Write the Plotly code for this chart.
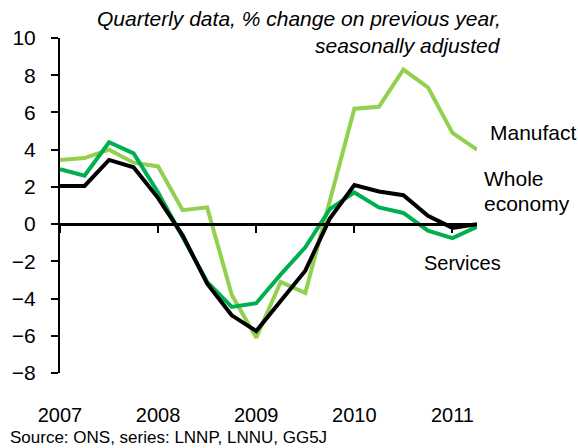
import plotly.graph_objects as go

quarters = list(range(18))  # 2007 Q1 .. 2011 Q2
year_ticks = [0, 4, 8, 12, 16]
year_labels = ["2007", "2008", "2009", "2010", "2011"]

manufacturing = [3.45, 3.55, 4.0, 3.3, 3.1, 0.75, 0.9, -3.8, -6.1, -3.1, -3.7, 1.2,
                 6.2, 6.3, 8.3, 7.35, 4.9, 4.0]
whole_economy = [2.05, 2.05, 3.45, 3.05, 1.4, -0.6, -3.2, -4.9, -5.75, -4.1, -2.5, 0.3,
                 2.1, 1.75, 1.55, 0.45, -0.2, 0.0]
services = [2.95, 2.6, 4.4, 3.8, 1.7, -0.7, -3.1, -4.45, -4.25, -2.7, -1.25, 0.8,
            1.7, 0.9, 0.6, -0.35, -0.75, -0.15]

W, H = 578, 448
L, R, T, B = 56, 101, 38, 75
FONT = "Liberation Sans, Arial, sans-serif"

def px(x):
    return (x - L) / (W - L - R)

def py(y):
    return 1 - (y - T) / (H - T - B)

fig = go.Figure()
fig.add_trace(go.Scatter(x=quarters, y=manufacturing, mode="lines", name="Manufact",
                         line=dict(color="#92D050", width=4)))
fig.add_trace(go.Scatter(x=quarters, y=services, mode="lines", name="Services",
                         line=dict(color="#00B050", width=4)))
fig.add_trace(go.Scatter(x=quarters, y=whole_economy, mode="lines", name="Whole economy",
                         line=dict(color="#000000", width=4), xaxis="x2"))

fig.update_layout(
    width=W, height=H,
    margin=dict(l=L, r=R, t=T, b=B, pad=0),
    paper_bgcolor="white", plot_bgcolor="white",
    showlegend=False,
    font=dict(family=FONT, color="black", size=20),
    xaxis=dict(range=[0, 17], tickvals=year_ticks, ticktext=year_labels,
               showline=False, showgrid=False, zeroline=False, ticks="",
               ticklabelstandoff=28, tickfont=dict(size=20)),
    xaxis2=dict(range=[0, 17], matches="x", overlaying="x", anchor="free",
                position=8 / 18, side="bottom",
                tickvals=year_ticks, showticklabels=False,
                showline=True, linecolor="black", linewidth=3,
                ticks="outside", ticklen=7, tickwidth=1.5, tickcolor="black",
                showgrid=False, zeroline=False),
    yaxis=dict(range=[-8, 10], tickvals=list(range(-8, 11, 2)),
               showline=True, linecolor="black", linewidth=2,
               ticks="outside", ticklen=7, tickwidth=1.5, tickcolor="black",
               ticklabelstandoff=11,
               showgrid=False, zeroline=False, tickfont=dict(size=21)),
)

ann = [
    dict(text="<i>Quarterly data, % change on previous year,</i>", x=px(503), y=py(18),
         xanchor="right", yanchor="middle", font=dict(size=21)),
    dict(text="<i>seasonally adjusted</i>", x=px(503), y=py(45),
         xanchor="right", yanchor="middle", font=dict(size=21)),
    dict(text="Manufact", x=px(488), y=py(133), xanchor="left", yanchor="middle",
         font=dict(size=21)),
    dict(text="Whole", x=px(482), y=py(178), xanchor="left", yanchor="middle",
         font=dict(size=21)),
    dict(text="economy", x=px(482), y=py(203), xanchor="left", yanchor="middle",
         font=dict(size=21)),
    dict(text="Services", x=px(421), y=py(263), xanchor="left", yanchor="middle",
         font=dict(size=20)),
    dict(text="Source: ONS, series: LNNP, LNNU, GG5J", x=px(4), y=py(437),
         xanchor="left", yanchor="middle", font=dict(size=17)),
]
for a in ann:
    a.update(xref="paper", yref="paper", showarrow=False)
fig.update_layout(annotations=ann)

fig.write_html("out.html")
